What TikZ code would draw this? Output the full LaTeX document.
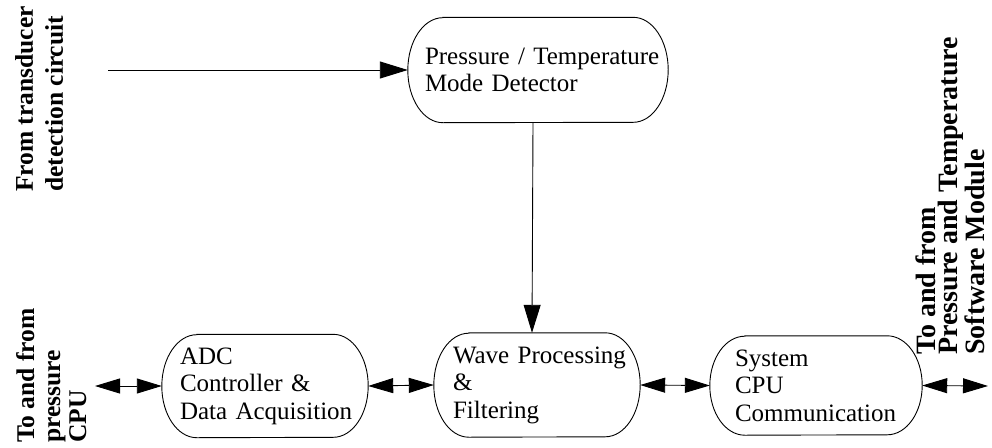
\documentclass[tikz,border=0pt]{standalone}
\usepackage{fontspec}
\setmainfont{Liberation Serif}
\usetikzlibrary{arrows.meta}
\newcommand{\pillshape}[2]{%
  \draw[line width=0.9pt] ([xshift=35pt]#1.north west) -- ([xshift=-35pt]#1.north east)
    arc[start angle=90,end angle=-90,x radius=35pt,y radius=#2]
    -- ([xshift=35pt]#1.south west)
    arc[start angle=270,end angle=90,x radius=35pt,y radius=#2] -- cycle;}
\tikzset{
  blk/.style={inner ysep=0pt, align=left,
    font=\fontsize{25}{27.5}\selectfont},
  lbl/.style={rotate=90, anchor=north west, inner sep=0pt, align=left},
  one/.style={line width=0.9pt, -{Triangle[length=28pt,width=17pt]}},
  two/.style={line width=0.9pt, {Triangle[length=25pt,width=15pt]}-{Triangle[length=25pt,width=15pt]}},
}
\begin{document}
\begin{tikzpicture}[x=1pt,y=-1pt]
\useasboundingbox (0,0) rectangle (992,447);
% blocks
\node[blk, minimum width=260pt, minimum height=105pt, inner xsep=17pt, text width=226pt]
  (det) at (538,70) {\mbox{Pressure / Temperature}\\\mbox{Mode Detector}};
\node[blk, minimum width=206pt, minimum height=103pt, inner xsep=18pt, text width=170pt]
  (adc) at (265,386) {ADC\\\mbox{Controller \&}\\\mbox{Data Acquisition}};
\node[blk, minimum width=206pt, minimum height=104pt, inner xsep=19pt, text width=168pt]
  (wave) at (537,385) {\mbox{Wave Processing}\\\&\\Filtering};
\node[blk, minimum width=212pt, minimum height=99pt, inner xsep=25pt, text width=162pt]
  (sys) at (816,385.5) {System\\CPU\\\mbox{Communication}};
\pillshape{det}{52.5pt}
\pillshape{adc}{51.5pt}
\pillshape{wave}{52pt}
\pillshape{sys}{49.5pt}
% free ends
\coordinate (src) at (108,70);
\coordinate (lft) at (95,386);
\coordinate (rgt) at (988,386);
% connectors
\draw[one] (src) -- (det.west);
\draw[one] ([xshift=-5pt]det.south) -- ([xshift=-5pt]wave.north);
\draw[two] (lft) -- (adc.west);
\draw[two] (adc.east) -- (wave.west);
\draw[two] (wave.east) -- (sys.west);
\draw[two] (sys.east) -- (rgt);
% side labels
\node[lbl, font=\bfseries\fontsize{25.5}{30}\selectfont] (lab1) at (15,192)
  {From transducer\\detection circuit};
\node[lbl, font=\bfseries\fontsize{25.5}{26}\selectfont] (lab2) at (16,443)
  {To and from\\pressure\\CPU};
\node[lbl, font=\bfseries\fontsize{28}{22}\selectfont] (lab3) at (916,355)
  {To and from\\Pressure and Temperature\\Software Module};
\end{tikzpicture}
\end{document}
